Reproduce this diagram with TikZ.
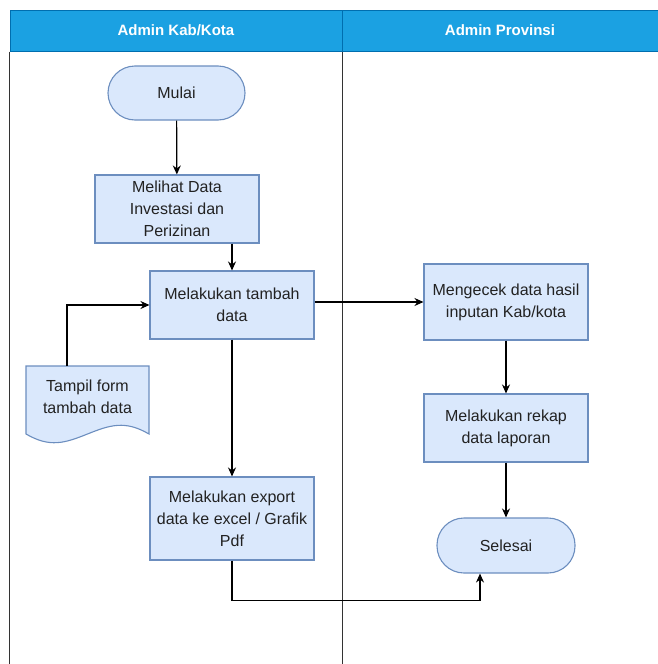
\documentclass[tikz,border=0pt]{standalone}
\usepackage{fontspec}
\setmainfont{Liberation Sans}
\usepackage{tikz}
\usetikzlibrary{arrows.meta}

\definecolor{boxfill}{HTML}{DAE8FC}
\definecolor{boxline}{HTML}{6C8EBF}
\definecolor{headfill}{HTML}{1BA1E2}
\definecolor{headline}{HTML}{006EAF}
\definecolor{txt}{HTML}{222222}

\begin{document}
\begin{tikzpicture}[x=1pt, y=-1pt,
  every node/.style={font=\fontsize{16}{22}\selectfont, text=txt, align=center},
  proc/.style={draw=boxline, fill=boxfill, line width=1.1pt, minimum width=164pt, minimum height=68pt, inner sep=2pt},
  term/.style={draw=boxline, fill=boxfill, line width=1.1pt, rounded corners=27pt, minimum width=137pt, minimum height=54pt},
  lanehead/.style={draw=headline, fill=headfill, line width=1pt, minimum height=41pt, text=white, font=\fontsize{15}{18}\selectfont\bfseries},
  arr/.style={-{Stealth[length=9pt,width=8pt]}, line width=1.2pt, black}]
\useasboundingbox (0,0) rectangle (658,664);

% lanes
\node[lanehead, minimum width=332pt] (kab)  at (176,30.5) {Admin Kab/Kota};
\node[lanehead, minimum width=316pt] (prov) at (500,30.5) {Admin Provinsi};
\draw[line width=1.3pt, black!80] (kab.south west) -- ++(0,613);
\draw[line width=1.3pt, black!80] (kab.south east) -- ++(0,613);

\node[term] (mulai) at (176.5,93) {Mulai};
\node[proc] (lihat) at (177,209) {Melihat Data\\Investasi dan\\Perizinan};
\node[proc] (tambah) at (232,305) {Melakukan tambah\\data};
\node[proc, minimum height=83pt] (export) at (232,518.5) {Melakukan export\\data ke excel / Grafik\\Pdf};
\node[proc, minimum height=76pt] (cek) at (506,302) {Mengecek data hasil\\inputan Kab/kota};
\node[proc] (rekap) at (506,428) {Melakukan rekap\\data laporan};
\node[term, minimum width=138pt, minimum height=55pt] (selesai) at (506,545.5) {Selesai};

% document shape
\draw[draw=boxline, fill=boxfill, line width=1.1pt]
  (26,366) -- (149,366) -- (149,434)
  .. controls (125,420) and (110,425) .. (87.5,434)
  .. controls (65,443) and (50,448) .. (26,434) -- cycle;
\node (form) at (87.5,397) {Tampil form\\tambah data};
\coordinate (formtop) at (67,366);

\draw[arr] (mulai) -- (lihat);
\draw[arr] (lihat.south -| tambah.north) -- (tambah.north);
\draw[arr] (tambah) -- (export);
\draw[arr] (formtop) |- (tambah.west);
\draw[arr] (tambah.east |- cek.west) -- (cek.west);
\draw[arr] (cek) -- (rekap);
\draw[arr] (rekap) -- (selesai);
\draw[arr] (export.south) -- ++(0,40) -| ([xshift=-26pt]selesai.south);
\end{tikzpicture}
\end{document}
